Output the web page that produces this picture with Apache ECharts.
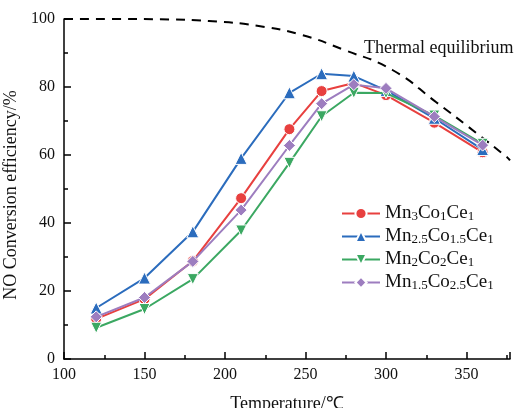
<!DOCTYPE html>
<html>
<head>
<meta charset="utf-8">
<script src="https://cdn.jsdelivr.net/npm/echarts@6/dist/echarts.min.js"></script>
<style>html,body{margin:0;padding:0;background:#fff}#c{width:517px;height:408px}</style>
</head>
<body>
<div id="c"></div>
<script>
const temperatures = [120, 150, 180, 210, 240, 260, 280, 300, 330, 360];
const seriesNames = ['Mn3Co1Ce1', 'Mn2.5Co1.5Ce1', 'Mn2Co2Ce1', 'Mn1.5Co2.5Ce1'];
const mn3co1ce1 = [11.8, 17.6, 28.8, 47.3, 67.6, 78.8, 81.2, 77.6, 69.5, 60.8];
const mn25co15ce1 = [15.0, 23.8, 37.4, 59.0, 78.3, 83.9, 83.2, 79.0, 70.8, 61.6];
const mn2co2ce1 = [9.2, 14.7, 23.5, 37.8, 57.7, 71.4, 78.3, 78.2, 71.6, 63.3];
const mn15co25ce1 = [12.4, 18.1, 28.7, 43.8, 62.8, 75.1, 80.7, 79.6, 71.3, 62.9];
const thermalX = [100, 130, 160, 190, 220, 247, 274, 304, 331, 356, 375, 377];
const thermalY = [100, 100, 99.9, 99.4, 98.0, 95.4, 90.9, 85.0, 75.6, 66.5, 59.4, 58.4];
const xTicks = { min: 100, max: 377, interval: 50 };
const yTicks = { min: 0, max: 100, interval: 20 };
const thermalLabel = 'Thermal equilibrium';
const xName = 'Temperature/℃';
const yName = 'NO Conversion efficiency/%';

const colors = ['#e8403f', '#2b6cbd', '#3ba862', '#9d7dbf'];
const symbols = ['circle', 'triangle', 'path://M0,0 L10,0 L5,9 Z', 'diamond'];
const symbolSizes = [11, 12, 11, 12];
const values = [mn3co1ce1, mn25co15ce1, mn2co2ce1, mn15co25ce1];
const font = 'Liberation Serif';

const series = seriesNames.map((n, i) => ({
  name: n, type: 'line',
  data: temperatures.map((t, j) => [t, values[i][j]]),
  symbol: symbols[i], symbolSize: symbolSizes[i],
  lineStyle: { color: colors[i], width: 2 },
  itemStyle: { color: colors[i], borderColor: '#fff', borderWidth: 1 },
  z: 3 + i
}));
series.push({
  name: thermalLabel, type: 'line', smooth: true, showSymbol: false, symbol: 'none',
  data: thermalX.map((t, j) => [t, thermalY[j]]),
  lineStyle: { color: '#000', width: 2, type: [9, 7] },
  z: 2, silent: true
});

const chart = echarts.init(document.getElementById('c'));
chart.setOption({
  animation: false,
  backgroundColor: '#fff',
  textStyle: { fontFamily: font },
  grid: { left: 64, right: 7, top: 19, bottom: 49, containLabel: false, outerBoundsMode: 'none' },
  title: {
    text: thermalLabel, left: 359, top: 34,
    textStyle: { fontFamily: font, fontSize: 18, fontWeight: 'normal', color: '#111' }
  },
  legend: {
    data: seriesNames, orient: 'vertical', left: 336, top: 199,
    itemWidth: 38, itemHeight: 14, itemGap: 4,
    formatter: n => n.replace(/(\d+(?:\.\d+)?)/g, '{s|$1}'),
    textStyle: {
      fontFamily: font, fontSize: 19, color: '#111', lineHeight: 19,
      rich: { s: { fontFamily: font, fontSize: 13, lineHeight: 8, verticalAlign: 'bottom', color: '#111' } }
    }
  },
  xAxis: {
    type: 'value', min: xTicks.min, max: xTicks.max, interval: xTicks.interval,
    name: xName, nameLocation: 'middle', nameGap: 36,
    nameTextStyle: { fontFamily: font, fontSize: 18, color: '#111' },
    axisLine: { onZero: false, lineStyle: { color: '#000', width: 1.5 } },
    axisTick: { inside: true, length: 7, lineStyle: { color: '#000', width: 1.5 } },
    minorTick: { show: true, splitNumber: 2, length: 4, lineStyle: { color: '#000', width: 1.5 } },
    axisLabel: { fontFamily: font, fontSize: 16, color: '#111', margin: 8, showMaxLabel: false },
    splitLine: { show: false }
  },
  yAxis: {
    type: 'value', min: yTicks.min, max: yTicks.max, interval: yTicks.interval,
    name: yName, nameLocation: 'middle', nameGap: 40,
    nameTextStyle: { fontFamily: font, fontSize: 18, color: '#111', padding: [0, 12, 0, 0] },
    axisLine: { show: true, lineStyle: { color: '#000', width: 1.5 } },
    axisTick: { show: true, inside: true, length: 7, lineStyle: { color: '#000', width: 1.5 } },
    minorTick: { show: true, splitNumber: 2, length: 4, lineStyle: { color: '#000', width: 1.5 } },
    axisLabel: { fontFamily: font, fontSize: 16, color: '#111', margin: 9 },
    splitLine: { show: false }
  },
  series: series
});
</script>
</body>
</html>
